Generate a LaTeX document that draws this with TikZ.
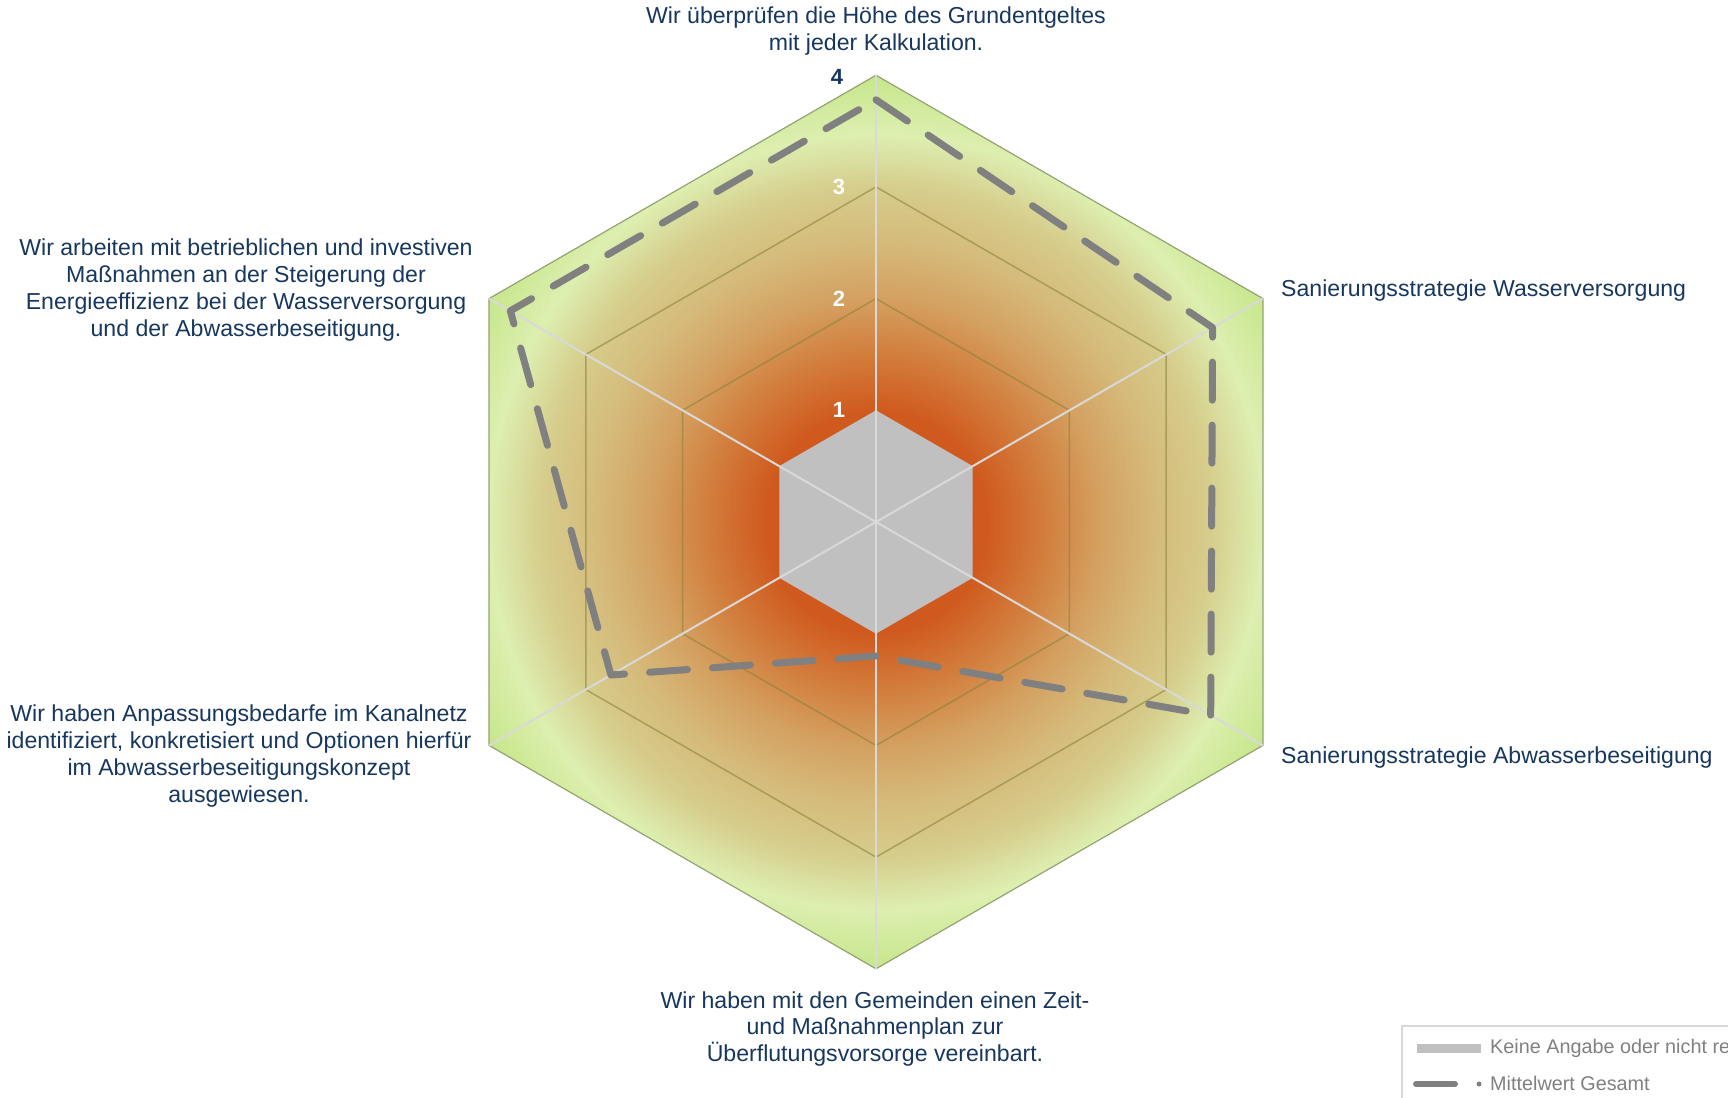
\documentclass[tikz,border=0pt]{standalone}
\usepackage{fontspec}
\setmainfont{Liberation Sans}
\usetikzlibrary{calc}

\definecolor{labelblue}{RGB}{23,55,94}
\definecolor{gridolive}{RGB}{140,130,60}
\definecolor{spokegray}{RGB}{217,217,217}
\definecolor{nodatagray}{RGB}{192,192,192}
\definecolor{meangray}{RGB}{128,128,128}
\definecolor{rimgray}{RGB}{150,162,115}
\definecolor{glowA}{RGB}{205,78,22}
\definecolor{glowB}{RGB}{208,90,30}
\definecolor{glowC}{RGB}{210,125,60}
\definecolor{glowD}{RGB}{212,160,96}
\definecolor{glowE}{RGB}{213,186,122}
\definecolor{glowF}{RGB}{214,205,140}
\definecolor{glowG}{RGB}{221,239,176}
\definecolor{glowH}{RGB}{198,230,138}

\pgfdeclareradialshading{radarglow}{\pgfpoint{0bp}{0bp}}{%
  color(0bp)=(glowA); color(6.25bp)=(glowB); color(9.4bp)=(glowC);
  color(12.5bp)=(glowD); color(15.6bp)=(glowE); color(18.75bp)=(glowF);
  color(21.7bp)=(glowG); color(25bp)=(glowH); color(50bp)=(glowH)}

\tikzset{
  axislabel/.style={font=\fontsize{23.1}{26.7}\selectfont, text=labelblue, align=center, inner sep=0pt},
  levelnum/.style={font=\fontsize{22}{26}\selectfont\bfseries, text=white, inner sep=0pt},
  legendtext/.style={font=\fontsize{19.8}{22}\selectfont, text=meangray, inner sep=0pt, anchor=base west},
  meanline/.style={draw=meangray, line width=7pt, line cap=round, line join=round, dash pattern=on 38pt off 25pt},
}

\begin{document}
\begin{tikzpicture}[x=111.7pt, y=111.7pt]
      \useasboundingbox (-876pt,-575pt) rectangle (852pt,522pt);

      \foreach \ang [count=\i] in {90,30,-30,-90,210,150}
        \coordinate (ax\i) at (\ang:4);
      \coordinate (hub) at (0,0);

      \begin{scope}
        \path[clip] (ax1) -- (ax2) -- (ax3) -- (ax4) -- (ax5) -- (ax6) -- cycle;
        \shade[shading=radarglow] (hub) circle (4);
      \end{scope}

      \foreach \lvl in {2,3}
        \draw[gridolive, line width=1.5pt, opacity=0.6]
          (90:\lvl) -- (30:\lvl) -- (-30:\lvl) -- (-90:\lvl) -- (210:\lvl) -- (150:\lvl) -- cycle;
      \draw[rimgray, line width=1.2pt] (ax1) -- (ax2) -- (ax3) -- (ax4) -- (ax5) -- (ax6) -- cycle;

      \path[fill=nodatagray] (90:1) -- (30:1) -- (-30:1) -- (-90:1) -- (210:1) -- (150:1) -- cycle;

      \foreach \i in {1,...,6}
        \draw[spokegray, line width=2pt] (hub) -- (ax\i);

      \coordinate (m1) at (90:3.78);
      \coordinate (m2) at (30:3.48);
      \coordinate (m3) at (-30:3.46);
      \coordinate (m4) at (-90:1.2);
      \coordinate (m5) at (210:2.74);
      \coordinate (m6) at (150:3.78);
      \draw[meanline] (m1) -- (m2) -- (m3) -- (m4) -- (m5) -- (m6) -- cycle;

      \foreach \lvl in {1,2,3}
        \node[levelnum] (num\lvl) at ($(0,\lvl)+(-37pt,0)$) {\lvl};
      \node[levelnum, text=labelblue] (num4) at ($(0,4)+(-39pt,-2pt)$) {4};

      \node[axislabel] (lbl1) at (0pt,491pt) {Wir überprüfen die Höhe des Grundentgeltes\\mit jeder Kalkulation.};
      \node[axislabel, anchor=base west] (lbl2) at (405pt,225pt) {Sanierungsstrategie Wasserversorgung};
      \node[axislabel, anchor=base west] (lbl3) at (405pt,-241pt) {Sanierungsstrategie Abwasserbeseitigung};
      \node[axislabel] (lbl4) at (-1pt,-507pt) {Wir haben mit den Gemeinden einen Zeit-\\und Maßnahmenplan zur\\Überflutungsvorsorge vereinbart.};
      \node[axislabel] (lbl5) at (-637pt,-234pt) {Wir haben Anpassungsbedarfe im Kanalnetz\\identifiziert, konkretisiert und Optionen hierfür\\im Abwasserbeseitigungskonzept\\ausgewiesen.};
      \node[axislabel] (lbl6) at (-630pt,232pt) {Wir arbeiten mit betrieblichen und investiven\\Maßnahmen an der Steigerung der\\Energieeffizienz bei der Wasserversorgung\\und der Abwasserbeseitigung.};

      \draw[spokegray, line width=1.5pt] (900pt,-504pt) -- (526pt,-504pt) -- (526pt,-600pt);
      \draw[nodatagray, line width=9pt] (541pt,-526pt) -- (605pt,-526pt);
      \node[legendtext] (leg1) at (614pt,-531pt) {Keine Angabe oder nicht re};
      \draw[meangray, line width=6pt, line cap=round] (540pt,-562pt) -- (579pt,-562pt);
      \fill[meangray] (603pt,-562pt) circle (2.5pt);
      \node[legendtext] (leg2) at (614pt,-568pt) {Mittelwert Gesamt};
\end{tikzpicture}
\end{document}
